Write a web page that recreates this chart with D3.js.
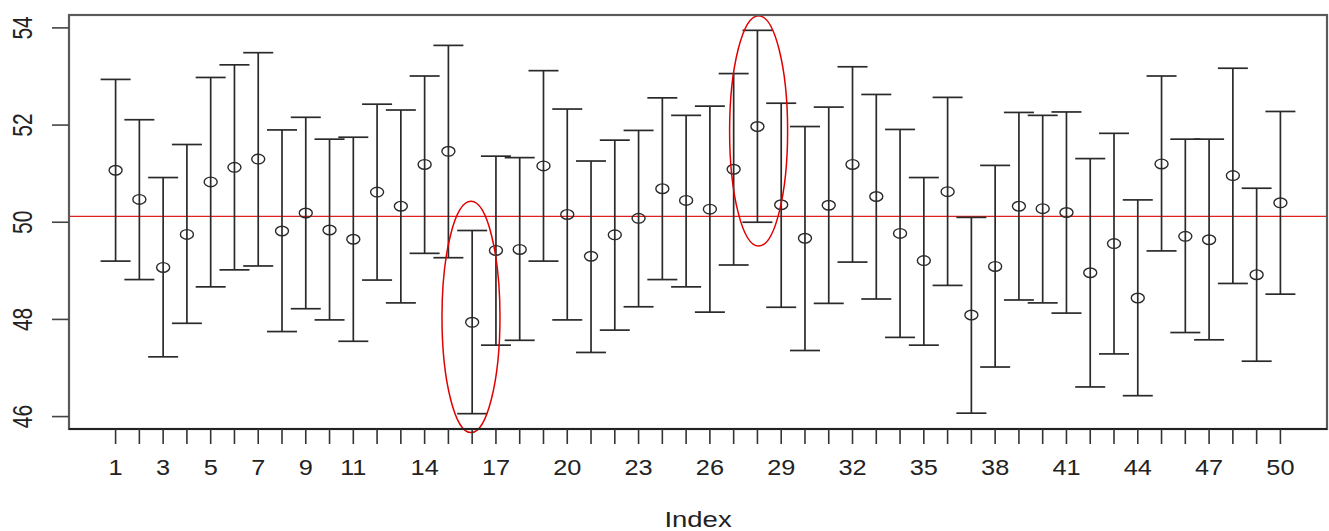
<!DOCTYPE html>
<html>
<head>
<meta charset="utf-8">
<script src="https://d3js.org/d3.v7.min.js"></script>
<style>
  body { margin: 0; background: #fff; }
  text { font-family: "Liberation Sans", Arial, Helvetica, sans-serif; fill: #222; }
</style>
</head>
<body>
<svg id="chart"></svg>
<script>
var width = 1329,
    height = 531,
    margin = {top: 15, right: 2, bottom: 102, left: 69};

// sample means and their interval ends, index 1..50
var means = [51.07, 50.47, 49.07, 49.75, 50.83, 51.13, 51.30, 49.82, 50.19, 49.84,
             49.65, 50.62, 50.33, 51.19, 51.46, 47.94, 49.42, 49.44, 51.16, 50.16,
             49.30, 49.74, 50.08, 50.69, 50.45, 50.27, 51.09, 51.97, 50.36, 49.67,
             50.35, 51.19, 50.53, 49.77, 49.21, 50.63, 48.09, 49.09, 50.33, 50.28,
             50.20, 48.96, 49.56, 48.44, 51.20, 49.71, 49.64, 50.96, 48.92, 50.40];
var upper = [52.94, 52.11, 50.92, 51.60, 52.98, 53.24, 53.49, 51.90, 52.16, 51.71,
             51.75, 52.43, 52.31, 53.01, 53.64, 49.83, 51.36, 51.33, 53.12, 52.33,
             51.26, 51.69, 51.89, 52.56, 52.20, 52.39, 53.06, 53.95, 52.45, 51.97,
             52.37, 53.20, 52.63, 51.91, 50.92, 52.57, 50.10, 51.17, 52.26, 52.20,
             52.27, 51.31, 51.83, 50.46, 53.01, 51.71, 51.71, 53.17, 50.70, 52.28];
var lower = [49.20, 48.82, 47.23, 47.92, 48.67, 49.02, 49.10, 47.75, 48.22, 47.99,
             47.55, 48.81, 48.34, 49.36, 49.27, 46.06, 47.47, 47.57, 49.20, 47.99,
             47.32, 47.78, 48.26, 48.82, 48.67, 48.15, 49.12, 50.00, 48.25, 47.36,
             48.33, 49.18, 48.42, 47.63, 47.47, 48.70, 46.07, 47.02, 48.40, 48.34,
             48.13, 46.61, 47.29, 46.43, 49.41, 47.73, 47.58, 48.74, 47.14, 48.52];

var refLine = 50.12;
var yTicks = [46, 48, 50, 52, 54];
var xLabels = [1, 3, 5, 7, 9, 11, 14, 17, 20, 23, 26, 29, 32, 35, 38, 41, 44, 47, 50];

// hand drawn red rings: centre index, centre value, half width (index), half height (value)
var rings = [
  {i: 15.95, v: 48.05, rx: 1.22, ry: 2.38},
  {i: 28.05, v: 51.88, rx: 1.22, ry: 2.37}
];

var data = means.map(function(m, k) {
  return {idx: k + 1, mean: m, lo: lower[k], hi: upper[k]};
});

var svg = d3.select("#chart").attr("width", width).attr("height", height);

// R style 4% extension of the data range
var xPad = (data.length - 1) * 0.04;
var x = d3.scaleLinear()
    .domain([1 - xPad, data.length + xPad])
    .range([margin.left, width - margin.right]);

var yMin = d3.min(lower), yMax = d3.max(upper), yPad = (yMax - yMin) * 0.04;
var y = d3.scaleLinear()
    .domain([yMin - yPad, yMax + yPad])
    .range([height - margin.bottom, margin.top]);

var x0 = x.range()[0], x1 = x.range()[1], yb = y.range()[0], yt = y.range()[1];

// red reference line
svg.append("line")
    .attr("x1", x0).attr("x2", x1)
    .attr("y1", y(refLine)).attr("y2", y(refLine))
    .attr("stroke", "#e02020")
    .attr("stroke-width", 1.4);

// error bars
var bars = svg.append("g").attr("class", "bars")
    .selectAll("g")
    .data(data)
    .enter()
    .append("g")
    .attr("stroke", "#2a2a2a")
    .attr("stroke-width", 1.7)
    .attr("fill", "none");

bars.append("line")
    .attr("x1", function(d) { return x(d.idx); })
    .attr("x2", function(d) { return x(d.idx); })
    .attr("y1", function(d) { return y(d.lo); })
    .attr("y2", function(d) { return y(d.hi); });

bars.append("line")
    .attr("x1", function(d) { return x(d.idx) - 15; })
    .attr("x2", function(d) { return x(d.idx) + 15; })
    .attr("y1", function(d) { return y(d.hi); })
    .attr("y2", function(d) { return y(d.hi); });

bars.append("line")
    .attr("x1", function(d) { return x(d.idx) - 15; })
    .attr("x2", function(d) { return x(d.idx) + 15; })
    .attr("y1", function(d) { return y(d.lo); })
    .attr("y2", function(d) { return y(d.lo); });

bars.append("ellipse")
    .attr("cx", function(d) { return x(d.idx); })
    .attr("cy", function(d) { return y(d.mean); })
    .attr("rx", 6.5)
    .attr("ry", 4.8)
    .attr("stroke-width", 1.4);

// red rings
svg.append("g").selectAll("ellipse")
    .data(rings)
    .enter()
    .append("ellipse")
    .attr("cx", function(d) { return x(d.i); })
    .attr("cy", function(d) { return y(d.v); })
    .attr("rx", function(d) { return x(d.i + d.rx) - x(d.i); })
    .attr("ry", function(d) { return y(d.v - d.ry) - y(d.v); })
    .attr("fill", "none")
    .attr("stroke", "#e00000")
    .attr("stroke-width", 1.5);

// box
svg.append("rect")
    .attr("x", x0).attr("y", yt)
    .attr("width", x1 - x0).attr("height", yb - yt)
    .attr("fill", "none")
    .attr("stroke", "#5a5a5a")
    .attr("stroke-width", 2.2);

// y axis
svg.append("g").selectAll("line")
    .data(yTicks)
    .enter()
    .append("line")
    .attr("x1", x0 - 17).attr("x2", x0)
    .attr("y1", function(d) { return y(d); })
    .attr("y2", function(d) { return y(d); })
    .attr("stroke", "#444")
    .attr("stroke-width", 1.6);

svg.append("g").selectAll("text")
    .data(yTicks)
    .enter()
    .append("text")
    .attr("transform", function(d) { return "translate(31.5," + y(d) + ") scale(1.35,1) rotate(-90)"; })
    .attr("text-anchor", "middle")
    .style("font-size", "21px")
    .text(function(d) { return d; });

// x axis
svg.append("line")
    .attr("x1", x0).attr("x2", x1)
    .attr("y1", yb).attr("y2", yb)
    .attr("stroke", "#222")
    .attr("stroke-width", 2);

svg.append("g").selectAll("line")
    .data(data)
    .enter()
    .append("line")
    .attr("x1", function(d) { return x(d.idx); })
    .attr("x2", function(d) { return x(d.idx); })
    .attr("y1", yb).attr("y2", yb + 15)
    .attr("stroke", "#333")
    .attr("stroke-width", 1.6);

svg.append("g").selectAll("text")
    .data(xLabels)
    .enter()
    .append("text")
    .attr("transform", function(d) { return "translate(" + x(d) + ",475) scale(1.15,1)"; })
    .attr("text-anchor", "middle")
    .style("font-size", "22px")
    .text(function(d) { return d; });

svg.append("text")
    .attr("transform", "translate(" + (x0 + x1) / 2 + ",527) scale(1.25,1)")
    .attr("text-anchor", "middle")
    .style("font-size", "22px")
    .text("Index");
</script>
</body>
</html>
